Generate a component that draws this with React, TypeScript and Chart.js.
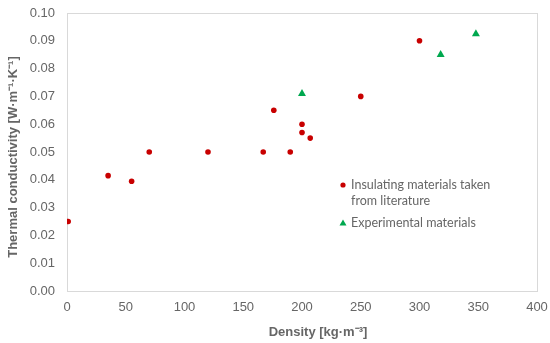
import React, { useEffect, useRef } from "react";
import { Chart, registerables } from "chart.js";

Chart.register(...registerables);

const literatureDensity = [1, 35, 55, 70, 120, 167, 176, 190, 200, 200, 207, 250, 300];
const literatureConductivity = [0.025, 0.0415, 0.0395, 0.05, 0.05, 0.05, 0.065, 0.05, 0.06, 0.057, 0.055, 0.07, 0.09];
const experimentalDensity = [200, 318, 348];
const experimentalConductivity = [0.071, 0.085, 0.0925];

const seriesNames = ["Insulating materials taken|from literature", "Experimental materials"];
const xTitle = "Density [kg·m⁻³]";
const yTitle = "Thermal conductivity [W·m⁻¹·K⁻¹]";

const RED = "#c80000";
const GREEN = "#00a84f";
const TEXT = "#666666";

const decorPlugin = {
  id: "decor",
  beforeDatasetsDraw(chart: any) {
    const { ctx, chartArea } = chart;
    ctx.save();
    ctx.strokeStyle = "#d9d9d9";
    ctx.lineWidth = 1;
    ctx.strokeRect(Math.round(chartArea.left) + 0.5, Math.round(chartArea.top) + 0.5,
      Math.round(chartArea.right - chartArea.left), Math.round(chartArea.bottom - chartArea.top));
    ctx.restore();
  },
  afterDraw(chart: any) {
    const { ctx, chartArea } = chart;
    ctx.save();
    // axis titles
    ctx.fillStyle = TEXT;
    ctx.font = "bold 13px 'Liberation Sans', Arial, sans-serif";
    ctx.textAlign = "center";
    ctx.textBaseline = "middle";
    ctx.fillText(xTitle, chartArea.left + 251, chartArea.bottom + 41);
    ctx.save();
    ctx.translate(13, (chartArea.top + chartArea.bottom) / 2 + 5);
    ctx.rotate(-Math.PI / 2);
    ctx.fillText(yTitle, 0, 0);
    ctx.restore();

    // legend
    const lx = chartArea.left + 276;
    const ly = chartArea.top + 172;
    ctx.font = "12.5px Lato, 'Open Sans', sans-serif";
    ctx.textAlign = "left";
    ctx.fillStyle = RED;
    ctx.beginPath();
    ctx.arc(lx, ly, 2.6, 0, Math.PI * 2);
    ctx.fill();
    ctx.fillStyle = TEXT;
    const lines = seriesNames[0].split("|");
    lines.forEach((t, i) => ctx.fillText(t, lx + 8, ly + i * 16));
    const ty = ly + 38;
    ctx.fillStyle = GREEN;
    ctx.beginPath();
    ctx.moveTo(lx, ty - 3.5);
    ctx.lineTo(lx + 3.5, ty + 2.5);
    ctx.lineTo(lx - 3.5, ty + 2.5);
    ctx.closePath();
    ctx.fill();
    ctx.fillStyle = TEXT;
    ctx.fillText(seriesNames[1], lx + 8, ty);
    ctx.restore();
  },
};

export default function App() {
  const ref = useRef<HTMLCanvasElement | null>(null);
  useEffect(() => {
    document.body.style.margin = "0";
    const canvas = ref.current!;
    const chart = new Chart(canvas, {
      type: "scatter",
      data: {
        datasets: [
          {
            label: seriesNames[0].replace("|", " "),
            data: literatureDensity.map((x, i) => ({ x, y: literatureConductivity[i] })),
            backgroundColor: RED,
            borderColor: RED,
            pointStyle: "circle",
            pointRadius: 2.8,
            borderWidth: 0,
          },
          {
            label: seriesNames[1],
            data: experimentalDensity.map((x, i) => ({ x, y: experimentalConductivity[i] })),
            backgroundColor: GREEN,
            borderColor: GREEN,
            pointStyle: "triangle",
            pointRadius: 4.6,
            borderWidth: 0,
          },
        ],
      },
      plugins: [decorPlugin],
      options: {
        animation: false,
        responsive: false,
        devicePixelRatio: 1,
        layout: { padding: { left: 0, right: 13, top: 13, bottom: 0 } },
        plugins: { legend: { display: false }, tooltip: { enabled: false } },
        scales: {
          x: {
            type: "linear",
            min: 0,
            max: 400,
            grid: { display: false, drawTicks: false },
            border: { display: false },
            ticks: {
              stepSize: 50,
              padding: 9,
              color: TEXT,
              font: { size: 13, family: "'Liberation Sans', Arial, sans-serif" },
            },
            afterFit(scale: any) {
              scale.height = 52;
              scale.paddingLeft = 0;
              scale.paddingRight = 0;
            },
          },
          y: {
            type: "linear",
            min: 0,
            max: 0.1,
            grid: { display: false, drawTicks: false },
            border: { display: false },
            ticks: {
              stepSize: 0.01,
              padding: 12,
              color: TEXT,
              font: { size: 13, family: "'Liberation Sans', Arial, sans-serif" },
              callback: (v: any) => Number(v).toFixed(2),
            },
            afterFit(scale: any) {
              scale.width = 67;
              scale.paddingTop = 0;
              scale.paddingBottom = 0;
            },
          },
        },
      },
    });
    return () => chart.destroy();
  }, []);
  return (
    <div style={{ width: 550, height: 343, background: "#fff" }}>
      <canvas ref={ref} width={550} height={343} style={{ display: "block" }} />
    </div>
  );
}
